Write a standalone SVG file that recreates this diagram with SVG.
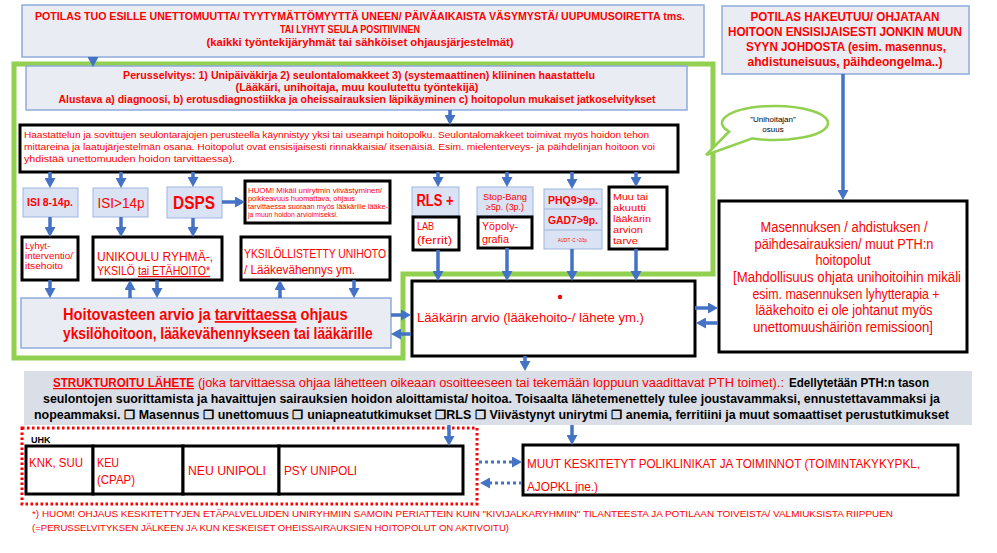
<svg xmlns="http://www.w3.org/2000/svg" width="997" height="553" viewBox="0 0 997 553">
<defs>
<style>
text{font-family:"Liberation Sans",Arial,sans-serif;fill:#ff0000}
.b{font-weight:bold}
.k{fill:#000}
.pale{fill:#e9edf3;stroke:#8eaadb;stroke-width:1.5}
.lb{fill:#dae3f3;stroke:#9db5e0;stroke-width:1}
.bx{fill:#fff;stroke:#000;stroke-width:3}
.a{stroke:#4472c4;stroke-width:3.5;fill:none;marker-end:url(#ah)}
.ad{stroke:#4472c4;stroke-width:3;fill:none;stroke-dasharray:3 3;marker-end:url(#ah)}
.m{text-anchor:middle}
.u{text-decoration:underline}
</style>
<marker id="ah" viewBox="0 0 10 11" refX="2" refY="5.5" markerWidth="10" markerHeight="11" markerUnits="userSpaceOnUse" orient="auto">
<path d="M0,0 L10,5.5 L0,11 z" fill="#4472c4"/>
</marker>
</defs>
<rect width="997" height="553" fill="#fff"/>

<g id="green-zone">
<path d="M14,64 H713 V274 H403 V358 H14 Z" fill="none" stroke="#92d050" stroke-width="5"/>
<path d="M729.1,131.5 L706,155 L752.6,138.4 A53,17 0 1 0 729.1,131.5 Z" fill="#fff" stroke="#92d050" stroke-width="2.5"/>
<text x="773" y="122" class="m k" font-size="8">”Unihoitajan”</text>
<text x="773" y="132" class="m k" font-size="8">osuus</text>
</g>

<g id="n-top-left">
<rect x="22" y="5" width="682" height="52" class="pale"/>
<text x="360" y="20" class="m b" font-size="11" textLength="650" lengthAdjust="spacingAndGlyphs">POTILAS TUO ESILLE UNETTOMUUTTA/  TYYTYMÄTTÖMYYTTÄ  UNEEN/  PÄIVÄAIKAISTA VÄSYMYSTÄ/ UUPUMUSOIRETTA tms.</text>
<text x="350" y="33" class="m b" font-size="11" textLength="140" lengthAdjust="spacingAndGlyphs">TAI LYHYT SEULA POSITIIVINEN</text>
<text x="360" y="46" class="m b" font-size="11" textLength="307" lengthAdjust="spacingAndGlyphs">(kaikki työntekijäryhmät  tai sähköiset ohjausjärjestelmät)</text>
</g>

<g id="n-top-right">
<rect x="722" y="6" width="247" height="68" class="pale"/>
<text x="845" y="21" class="m b" font-size="13" textLength="189" lengthAdjust="spacingAndGlyphs">POTILAS HAKEUTUU/ OHJATAAN</text>
<text x="845" y="36" class="m b" font-size="13" textLength="234" lengthAdjust="spacingAndGlyphs">HOITOON ENSISIJAISESTI JONKIN MUUN</text>
<text x="846" y="51" class="m b" font-size="13" textLength="200" lengthAdjust="spacingAndGlyphs">SYYN JOHDOSTA (esim. masennus,</text>
<text x="845" y="66" class="m b" font-size="13" textLength="195" lengthAdjust="spacingAndGlyphs">ahdistuneisuus, päihdeongelma..)</text>
</g>

<g id="n-perusselvitys">
<rect x="26" y="66" width="661" height="44" class="pale"/>
<text x="359" y="79" class="m b" font-size="11" textLength="472" lengthAdjust="spacingAndGlyphs">Perusselvitys: 1) Unipäiväkirja 2) seulontalomakkeet 3) (systemaattinen) kliininen haastattelu</text>
<text x="357" y="91" class="m b" font-size="11" textLength="243" lengthAdjust="spacingAndGlyphs">(Lääkäri, unihoitaja, muu koulutettu työntekijä)</text>
<text x="357" y="103" class="m b" font-size="11" textLength="597" lengthAdjust="spacingAndGlyphs">Alustava a) diagnoosi, b) erotusdiagnostiikka ja oheissairauksien läpikäyminen c) hoitopolun mukaiset jatkoselvitykset</text>
</g>

<g id="n-haastattelu">
<rect x="20" y="125" width="658" height="47" class="bx"/>
<text x="24" y="138" font-size="9.5" textLength="625" lengthAdjust="spacingAndGlyphs">Haastattelun ja sovittujen seulontarajojen perusteella käynnistyy yksi tai useampi hoitopolku. Seulontalomakkeet toimivat myös hoidon tehon</text>
<text x="24" y="150" font-size="9.5" textLength="631" lengthAdjust="spacingAndGlyphs">mittareina ja laatujärjestelmän osana. Hoitopolut ovat ensisijaisesti rinnakkaisia/ itsenäisiä. Esim. mielenterveys- ja päihdelinjan hoitoon voi</text>
<text x="24" y="162" font-size="9.5" textLength="211" lengthAdjust="spacingAndGlyphs">yhdistää unettomuuden hoidon tarvittaessa).</text>
</g>

<g id="n-isi814">
<rect x="23" y="188" width="55" height="29" class="lb"/>
<text x="50" y="206" class="m b" font-size="11" textLength="46" lengthAdjust="spacingAndGlyphs">ISI 8-14p.</text>
</g>
<g id="n-isi14">
<rect x="93" y="188" width="55" height="29" class="lb"/>
<text x="121" y="208" class="m" font-size="15" textLength="47" lengthAdjust="spacingAndGlyphs">ISI&gt;14p</text>
</g>
<g id="n-dsps">
<rect x="167" y="187" width="55" height="31" class="lb"/>
<text x="194" y="209" class="m b" font-size="19" textLength="42" lengthAdjust="spacingAndGlyphs">DSPS</text>
</g>
<g id="n-huom">
<rect x="245" y="181" width="145" height="42" class="bx"/>
<text x="248" y="193" font-size="6.9" textLength="134" lengthAdjust="spacingAndGlyphs">HUOM! Mikäli unirytmin viivästyminen/</text>
<text x="248" y="201" font-size="6.9" textLength="107" lengthAdjust="spacingAndGlyphs">poikkeavuus huomattava, ohjaus</text>
<text x="248" y="209" font-size="6.9" textLength="140" lengthAdjust="spacingAndGlyphs">tarvittaessa suoraan myös lääkärille lääke-</text>
<text x="248" y="217" font-size="6.9" textLength="90" lengthAdjust="spacingAndGlyphs">ja muun hoidon arvioimiseksi.</text>
</g>

<g id="n-lyhyt">
<rect x="22" y="237" width="56" height="43" class="bx"/>
<text x="25" y="249" font-size="8.5" textLength="25" lengthAdjust="spacingAndGlyphs">Lyhyt-</text>
<text x="25" y="259" font-size="8.5" textLength="48" lengthAdjust="spacingAndGlyphs">interventio/</text>
<text x="25" y="269" font-size="8.5" textLength="38" lengthAdjust="spacingAndGlyphs">itsehoito</text>
</g>
<g id="n-unikoulu">
<rect x="93" y="237" width="129" height="43" class="bx"/>
<text x="97" y="261" font-size="12" textLength="116" lengthAdjust="spacingAndGlyphs">UNIKOULU  RYHMÄ-,</text>
<text x="97" y="275" font-size="12" textLength="38" lengthAdjust="spacingAndGlyphs">YKSILÖ</text>
<text x="138" y="275" font-size="12" class="u" textLength="72" lengthAdjust="spacingAndGlyphs">tai ETÄHOITO*</text>
</g>
<g id="n-yksilo">
<rect x="241" y="237" width="149" height="43" class="bx"/>
<text x="244" y="258" font-size="12.5" textLength="142" lengthAdjust="spacingAndGlyphs">YKSILÖLLISTETTY  UNIHOTO</text>
<text x="244" y="274" font-size="12.5" textLength="111" lengthAdjust="spacingAndGlyphs">/ Lääkevähennys ym.</text>
</g>

<g id="n-rls">
<rect x="412" y="187" width="47" height="29" class="lb"/>
<text x="435" y="206" class="m b" font-size="16" textLength="37" lengthAdjust="spacingAndGlyphs">RLS +</text>
</g>
<g id="n-lab">
<rect x="413" y="217" width="46" height="33" class="bx"/>
<text x="417" y="230" font-size="11" textLength="17" lengthAdjust="spacingAndGlyphs">LAB</text>
<text x="417" y="244" font-size="11" textLength="35" lengthAdjust="spacingAndGlyphs">(ferrit)</text>
</g>
<g id="n-stopbang">
<rect x="477" y="187" width="56" height="29" class="lb"/>
<text x="505" y="200" class="m" font-size="8.5" textLength="44" lengthAdjust="spacingAndGlyphs">Stop-Bang</text>
<text x="505" y="210" class="m" font-size="8.5" textLength="38" lengthAdjust="spacingAndGlyphs">≥5p. (3p.)</text>
</g>
<g id="n-yopoly">
<rect x="478" y="217" width="54" height="31" class="bx"/>
<text x="482" y="230" font-size="11" textLength="36" lengthAdjust="spacingAndGlyphs">Yöpoly-</text>
<text x="482" y="243" font-size="11" textLength="27" lengthAdjust="spacingAndGlyphs">grafia</text>
</g>
<g id="n-phq">
<rect x="544" y="189" width="58" height="60" class="lb"/>
<line x1="544" y1="209" x2="602" y2="209" stroke="#9db5e0" stroke-width="1"/>
<line x1="544" y1="230" x2="602" y2="230" stroke="#9db5e0" stroke-width="1"/>
<text x="573" y="204" class="m b" font-size="11" textLength="50" lengthAdjust="spacingAndGlyphs">PHQ9&gt;9p.</text>
<text x="573" y="224" class="m b" font-size="11" textLength="50" lengthAdjust="spacingAndGlyphs">GAD7&gt;9p.</text>
<text x="573" y="242" class="m" font-size="5.5" textLength="30" lengthAdjust="spacingAndGlyphs">AUDIT -C &gt;2/3p.</text>
</g>
<g id="n-muu">
<rect x="609" y="187" width="58" height="62" class="bx"/>
<text x="613" y="200" font-size="9.5" textLength="35" lengthAdjust="spacingAndGlyphs">Muu tai</text>
<text x="613" y="211" font-size="9.5" textLength="33" lengthAdjust="spacingAndGlyphs">akuutti</text>
<text x="613" y="222" font-size="9.5" textLength="38" lengthAdjust="spacingAndGlyphs">lääkärin</text>
<text x="613" y="233" font-size="9.5" textLength="30" lengthAdjust="spacingAndGlyphs">arvion</text>
<text x="613" y="244" font-size="9.5" textLength="25" lengthAdjust="spacingAndGlyphs">tarve</text>
</g>

<g id="n-hoitovaste">
<rect x="21" y="298" width="370" height="50" class="pale"/>
<text transform="translate(63,320) scale(0.864,1)" class="b" font-size="17">Hoitovasteen arvio ja <tspan class="u">tarvittaessa</tspan> ohjaus</text>
<text transform="translate(63,339) scale(0.812,1)" class="b" font-size="17">yksilöhoitoon, lääkevähennykseen tai lääkärille</text>
</g>

<g id="n-laakari">
<rect x="412" y="281" width="283" height="75" class="bx"/>
<circle cx="560" cy="297" r="2.2" fill="#ff0000"/>
<text x="417" y="322" font-size="13" textLength="227" lengthAdjust="spacingAndGlyphs">Lääkärin arvio (lääkehoito-/ lähete ym.)</text>
</g>

<g id="n-masennus">
<rect x="719" y="201" width="248" height="151" class="bx"/>
<text x="844" y="232" class="m" font-size="14" textLength="167" lengthAdjust="spacingAndGlyphs">Masennuksen / ahdistuksen /</text>
<text x="844" y="248.7" class="m" font-size="14" textLength="179" lengthAdjust="spacingAndGlyphs">päihdesairauksien/ muut PTH:n</text>
<text x="843" y="265.3" class="m" font-size="14" textLength="55" lengthAdjust="spacingAndGlyphs">hoitopolut</text>
<text x="847" y="282" class="m" font-size="14" textLength="228" lengthAdjust="spacingAndGlyphs">[Mahdollisuus ohjata unihoitoihin mikäli</text>
<text x="846" y="298.7" class="m" font-size="14" textLength="187" lengthAdjust="spacingAndGlyphs">esim. masennuksen lyhytterapia +</text>
<text x="844" y="315.3" class="m" font-size="14" textLength="177" lengthAdjust="spacingAndGlyphs">lääkehoito ei ole johtanut myös</text>
<text x="843" y="332" class="m" font-size="14" textLength="180" lengthAdjust="spacingAndGlyphs">unettomuushäiriön remissioon]</text>
</g>

<g id="n-lahete">
<rect x="24" y="371" width="948" height="54" fill="#d9dee7"/>
<text x="53" y="387" class="b u" font-size="12" textLength="141" lengthAdjust="spacingAndGlyphs">STRUKTUROITU LÄHETE</text>
<text x="198" y="387" font-size="12" textLength="586" lengthAdjust="spacingAndGlyphs">(joka tarvittaessa ohjaa lähetteen oikeaan osoitteeseen tai tekemään loppuun vaadittavat PTH toimet).:</text>
<text x="789" y="387" class="b k" font-size="12" textLength="140" lengthAdjust="spacingAndGlyphs">Edellytetään PTH:n tason</text>
<text x="43" y="403" class="b k" font-size="12" textLength="897" lengthAdjust="spacingAndGlyphs">seulontojen suorittamista ja havaittujen sairauksien hoidon aloittamista/ hoitoa. Toisaalta lähetemenettely tulee joustavammaksi, ennustettavammaksi ja</text>
<text x="34" y="419" class="b k" font-size="12" textLength="915" lengthAdjust="spacingAndGlyphs">nopeammaksi. ❒ Masennus ❒ unettomuus ❒ uniapneatutkimukset ❒RLS ❒ Viivästynyt unirytmi ❒ anemia, ferritiini ja muut somaattiset perustutkimukset</text>
</g>

<g id="n-uhk">
<rect x="22" y="428" width="455" height="76" fill="none" stroke="#ff0000" stroke-width="3" stroke-dasharray="2.5 2.5"/>
<text x="31" y="443" class="b k" font-size="9">UHK</text>
</g>
<g id="n-knk">
<rect x="26" y="446" width="67" height="48" class="bx"/>
<text x="29" y="467" font-size="13" textLength="54" lengthAdjust="spacingAndGlyphs">KNK, SUU</text>
</g>
<g id="n-keu">
<rect x="93" y="446" width="90" height="48" class="bx"/>
<text x="97" y="467" font-size="13" textLength="22" lengthAdjust="spacingAndGlyphs">KEU</text>
<text x="97" y="484" font-size="13" textLength="38" lengthAdjust="spacingAndGlyphs">(CPAP)</text>
</g>
<g id="n-neu">
<rect x="183" y="446" width="96" height="48" class="bx"/>
<text x="188" y="475" font-size="13" textLength="78" lengthAdjust="spacingAndGlyphs">NEU UNIPOLI</text>
</g>
<g id="n-psy">
<rect x="279" y="446" width="184" height="48" class="bx"/>
<text x="284" y="475" font-size="13" textLength="73" lengthAdjust="spacingAndGlyphs">PSY UNIPOLI</text>
</g>

<g id="n-muut">
<rect x="523" y="445" width="435" height="50" class="bx"/>
<text x="527" y="468" font-size="13" textLength="393" lengthAdjust="spacingAndGlyphs">MUUT KESKITETYT POLIKLINIKAT JA TOIMINNOT (TOIMINTAKYKYPKL,</text>
<text x="527" y="491" font-size="13" textLength="71" lengthAdjust="spacingAndGlyphs">AJOPKL jne.)</text>
</g>

<g id="footnote">
<text x="32" y="517" font-size="9" textLength="861" lengthAdjust="spacingAndGlyphs">*) HUOM! OHJAUS KESKITETTYJEN ETÄPALVELUIDEN UNIRYHMIIN SAMOIN PERIATTEIN KUIN "KIVIJALKARYHMIIN" TILANTEESTA JA POTILAAN TOIVEISTA/ VALMIUKSISTA RIIPPUEN</text>
<text x="32" y="531" font-size="9" textLength="477" lengthAdjust="spacingAndGlyphs">(=PERUSSELVITYKSEN JÄLKEEN JA KUN KESKEISET OHEISSAIRAUKSIEN HOITOPOLUT ON AKTIVOITU)</text>
</g>

<g id="connectors">
<line x1="93" y1="57" x2="93" y2="59" class="a"/>
<line x1="450" y1="110" x2="450" y2="117" class="a"/>
<line x1="50" y1="172" x2="50" y2="180" class="a"/>
<line x1="121" y1="172" x2="121" y2="180" class="a"/>
<line x1="193" y1="172" x2="193" y2="179" class="a"/>
<line x1="438" y1="172" x2="438" y2="179" class="a"/>
<line x1="507" y1="172" x2="507" y2="179" class="a"/>
<line x1="572" y1="172" x2="572" y2="181" class="a"/>
<line x1="636" y1="172" x2="636" y2="179" class="a"/>
<line x1="222" y1="202" x2="237" y2="202" class="a"/>
<line x1="50" y1="217" x2="50" y2="229" class="a"/>
<line x1="121" y1="217" x2="121" y2="229" class="a"/>
<line x1="193" y1="218" x2="193" y2="229" class="a"/>
<line x1="50" y1="280" x2="50" y2="290" class="a"/>
<line x1="130" y1="298" x2="130" y2="288" class="a"/>
<line x1="157" y1="280" x2="157" y2="290" class="a"/>
<line x1="280" y1="298" x2="280" y2="288" class="a"/>
<line x1="354" y1="280" x2="354" y2="290" class="a"/>
<line x1="391" y1="315" x2="403" y2="315" class="a"/>
<line x1="411" y1="334" x2="399" y2="334" class="a"/>
<line x1="438" y1="250" x2="438" y2="273" class="a"/>
<line x1="507" y1="248" x2="507" y2="273" class="a"/>
<line x1="572" y1="249" x2="572" y2="273" class="a"/>
<line x1="636" y1="249" x2="636" y2="273" class="a"/>
<line x1="695" y1="308" x2="710" y2="308" class="a"/>
<line x1="718" y1="323" x2="704" y2="323" class="a"/>
<line x1="843" y1="74" x2="843" y2="192" class="a"/>
<line x1="525" y1="356" x2="525" y2="363" class="a"/>
<line x1="449" y1="425" x2="449" y2="438" class="a"/>
<line x1="572" y1="425" x2="572" y2="437" class="a"/>
<line x1="479" y1="462" x2="514" y2="462" class="ad"/>
<line x1="522" y1="483" x2="488" y2="483" class="ad"/>
</g>
</svg>
